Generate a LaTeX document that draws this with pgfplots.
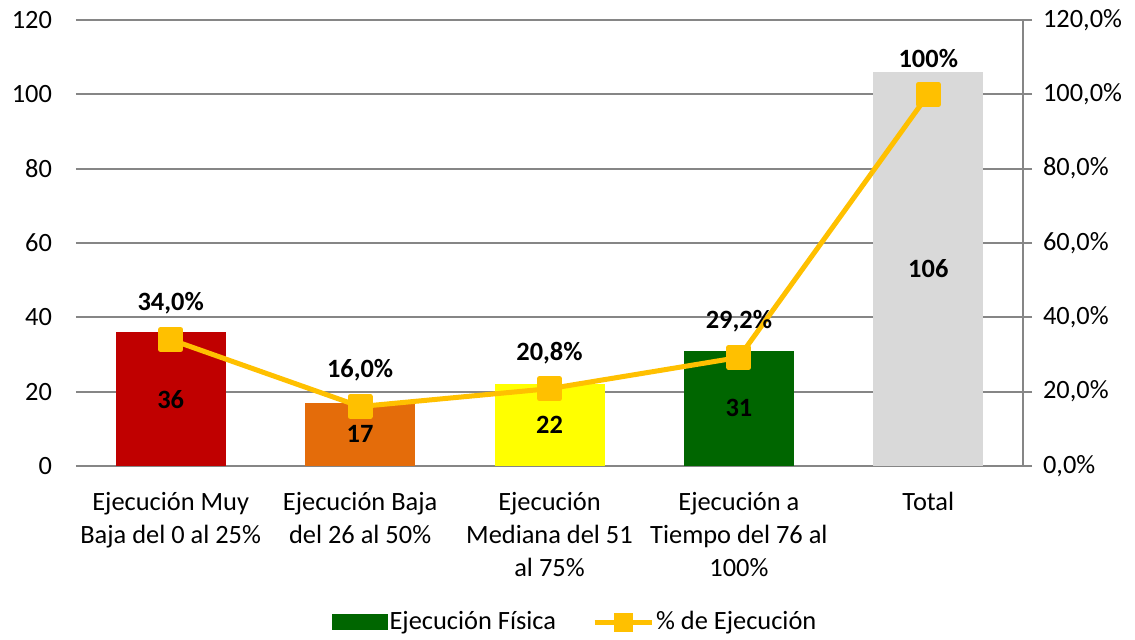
\documentclass[border=0pt]{standalone}
\usepackage{fontspec}
\setmainfont{Carlito}
\usepackage{pgfplots}
\pgfplotsset{compat=1.18}
\definecolor{cred}{HTML}{C00000}
\definecolor{corange}{HTML}{E46C0A}
\definecolor{cyellow}{HTML}{FFFF00}
\definecolor{cgreen}{HTML}{006600}
\definecolor{cgray}{HTML}{D9D9D9}
\definecolor{cgold}{HTML}{FFC000}
\definecolor{gridgray}{HTML}{868686}
\newcommand\lfont{\fontsize{13.2}{16.5}\selectfont}
\begin{document}
\begin{tikzpicture}[x=1pt,y=1pt]
\path[use as bounding box] (0,0) rectangle (567.5,320);
\begin{axis}[
  at={(38pt,87pt)}, anchor=south west,
  scale only axis, width=473.5pt, height=223pt,
  xmin=-0.5, xmax=4.5, ymin=0, ymax=120,
  xtick={0,1,2,3,4},
  xticklabels={{Ejecución Muy\\Baja del 0 al 25\%},{Ejecución Baja\\del 26 al 50\%},{Ejecución\\Mediana del 51\\al 75\%},{Ejecución a\\Tiempo del 76 al\\100\%},{Total}},
  ytick={0,20,40,60,80,100,120},
  yticklabels={0,20,40,60,80,100,120},
  /pgf/number format/assume math mode=true,
  axis line style={draw=none},
  major tick length=0pt,
  ymajorgrids, grid style={gridgray, line width=1pt},
  ticklabel style={font=\lfont},
  x tick label style={align=center, yshift=-9.5pt},
  y tick label style={xshift=-8.5pt},
  clip=false,
]
\addplot[ybar, bar width=55pt, bar shift=0pt, fill=cred, draw=none] coordinates {(0,36)};
\addplot[ybar, bar width=55pt, bar shift=0pt, fill=corange, draw=none] coordinates {(1,17)};
\addplot[ybar, bar width=55pt, bar shift=0pt, fill=cyellow, draw=none] coordinates {(2,22)};
\addplot[ybar, bar width=55pt, bar shift=0pt, fill=cgreen, draw=none] coordinates {(3,31)};
\addplot[ybar, bar width=55pt, bar shift=0pt, fill=cgray, draw=none] coordinates {(4,106)};
% labels inside bars (placed at half height)
\addplot[draw=none, mark=none, nodes near coords, point meta=explicit symbolic,
  nodes near coords style={anchor=center, text=black, font=\lfont\bfseries}]
  coordinates {(0,18)[36] (1,8.5)[17] (2,11)[22] (3,15.5)[31] (4,53)[106]};
% percent line
\addplot[cgold, line width=2.5pt, line join=round, mark=square*, mark size=5pt,
  mark options={draw=none, fill=cgold},
  nodes near coords, point meta=explicit symbolic,
  nodes near coords style={anchor=center, yshift=18pt, text=black, font=\lfont\bfseries}]
  coordinates {(0,34.0)[34,0\%] (1,16.0)[16,0\%] (2,20.8)[20,8\%] (3,29.2)[29,2\%] (4,100)[100\%]};
\end{axis}
\begin{axis}[
  at={(38pt,87pt)}, anchor=south west,
  scale only axis, width=473.5pt, height=223pt,
  xmin=-0.5, xmax=4.5, ymin=0, ymax=120,
  axis x line=none, axis y line*=right,
  y axis line style={gridgray, line width=1pt, -},
  ytick={0,20,40,60,80,100,120},
  yticklabels={{0,0\%},{20,0\%},{40,0\%},{60,0\%},{80,0\%},{100,0\%},{120,0\%}},
  ytick style={gridgray, line width=1pt},
  tick align=outside, major tick length=4.5pt,
  ticklabel style={font=\lfont},
  y tick label style={xshift=2pt},
  legend columns=2,
  legend style={draw=none, fill=none, at={(0.527,-0.35)}, anchor=center, font=\lfont,
    nodes={inner sep=1pt},
    /tikz/every even column/.append style={column sep=17pt}},
]
\addlegendimage{legend image code/.code={\fill[cgreen] (0pt,-3.75pt) rectangle (27.5pt,3.75pt);}}
\addlegendentry{Ejecución Física}
\addlegendimage{legend image code/.code={\draw[cgold, line width=2.5pt] (0pt,0pt) -- (28.5pt,0pt); \fill[cgold] (9.75pt,-4.5pt) rectangle (18.75pt,4.5pt);}}
\addlegendentry{\% de Ejecución}
\end{axis}
\end{tikzpicture}
\end{document}
